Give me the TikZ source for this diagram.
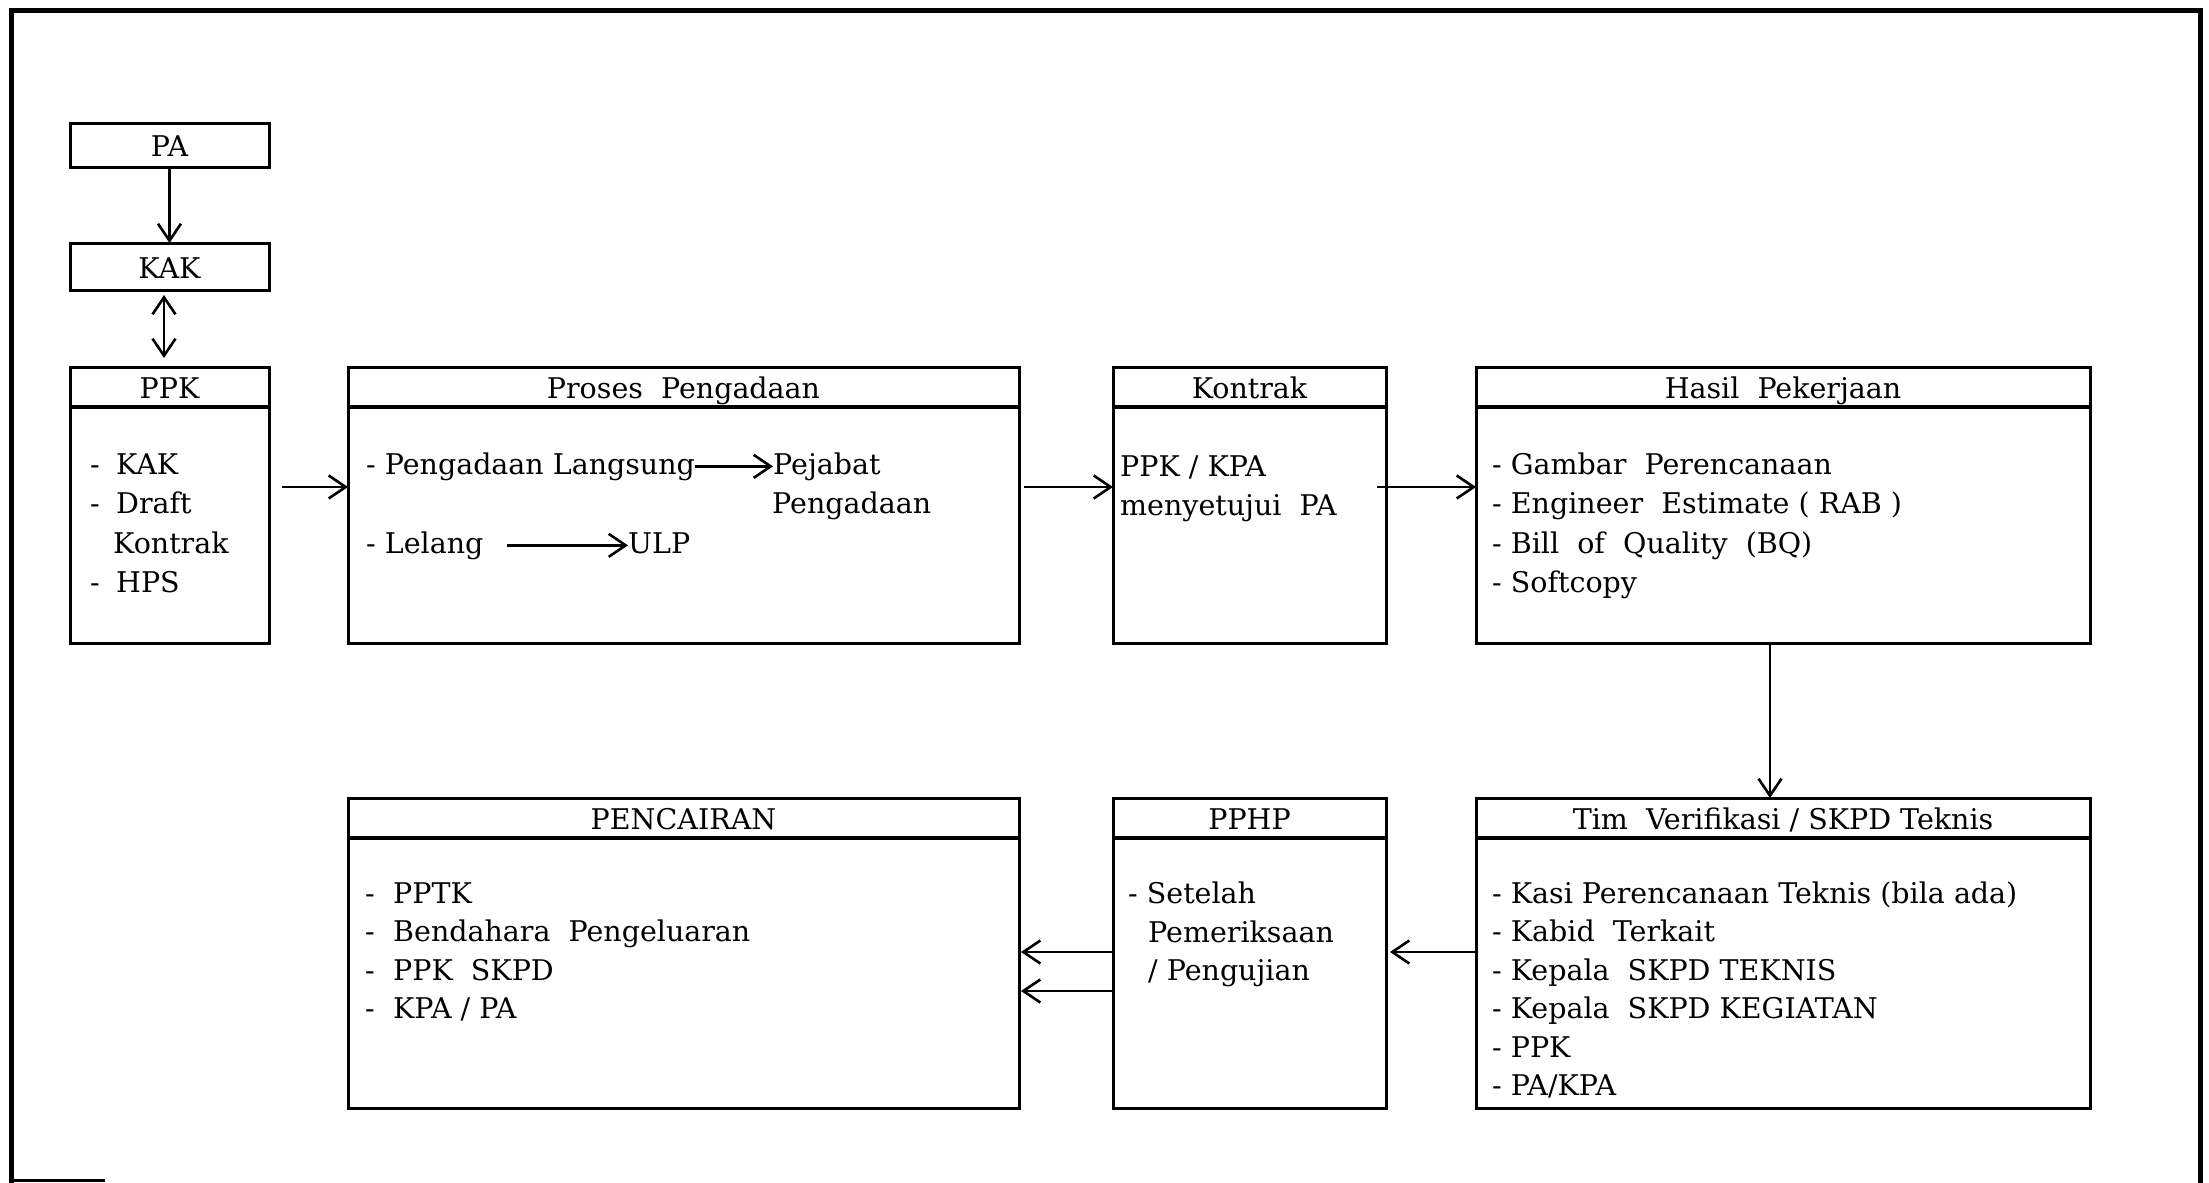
\documentclass[tikz,border=0pt]{standalone}
\usepackage{fontspec}
\setmainfont{DejaVu Serif}
\usetikzlibrary{arrows.meta,calc}
\begin{document}
\begin{tikzpicture}[x=1pt,y=-1pt,
  box/.style={draw, line width=3pt, anchor=north west, inner sep=0pt, outer sep=0pt},
  hdr/.style={line width=4.5pt},
  txt/.style={font=\fontsize{28.5}{34}\selectfont, inner sep=0pt, anchor=base west},
  ttl/.style={font=\fontsize{28.5}{34}\selectfont, inner sep=0pt, anchor=base},
  arr/.style={line width=2.6pt, -{Straight Barb[length=17pt,width=23pt]}},
  darr/.style={line width=2.6pt, {Straight Barb[length=17pt,width=23pt]}-{Straight Barb[length=17pt,width=23pt]}},
  frame/.style={line width=5pt}
  ]
\useasboundingbox (0,0) rectangle (2209,1183);
% outer frame
\draw[frame] (11,1183) -- (11,10) -- (2200,10) -- (2200,1183);
\draw[line width=3pt] (11,1180) -- (105,1180);
% boxes
\node[box, minimum width=199pt, minimum height=44pt] (pa) at (70,123) {};
\node[box, minimum width=199pt, minimum height=47pt] (kak) at (70,243) {};
\node[box, minimum width=199pt, minimum height=276pt] (ppk) at (70,367) {};
\node[box, minimum width=671pt, minimum height=276pt] (pros) at (348,367) {};
\node[box, minimum width=273pt, minimum height=276pt] (kon) at (1113,367) {};
\node[box, minimum width=614pt, minimum height=276pt] (has) at (1476,367) {};
\node[box, minimum width=671pt, minimum height=310pt] (pen) at (348,798) {};
\node[box, minimum width=273pt, minimum height=310pt] (pphp) at (1113,798) {};
\node[box, minimum width=614pt, minimum height=310pt] (tim) at (1476,798) {};
\foreach \n in {ppk,pros,kon,has,pen,pphp,tim}
  \draw[hdr] ([yshift=-40pt]\n.north west) -- ([yshift=-40pt]\n.north east);
% titles
\node[ttl] (pa-t) at ([yshift=-33pt]pa.north) {PA};
\node[ttl] (kak-t) at ([yshift=-35pt]kak.north) {KAK};
\node[ttl] (ppk-t) at ([yshift=-31pt]ppk.north) {PPK};
\node[ttl] (pros-t) at ([yshift=-31pt]pros.north) {Proses\ \ Pengadaan};
\node[ttl] (kon-t) at ([yshift=-31pt]kon.north) {Kontrak};
\node[ttl] (has-t) at ([yshift=-31pt]has.north) {Hasil\ \ Pekerjaan};
\node[ttl] (pen-t) at ([yshift=-31pt]pen.north) {PENCAIRAN};
\node[ttl] (pphp-t) at ([yshift=-31pt]pphp.north) {PPHP};
\node[ttl] (tim-t) at ([yshift=-31pt]tim.north) {Tim\ \ Verifikasi / SKPD Teknis};
% PPK body
\node[txt] (ppk-d1) at (90,474) {-};
\node[txt] (ppk-1) at (116,474) {KAK};
\node[txt] (ppk-d2) at (90,513) {-};
\node[txt] (ppk-2) at (116,513) {Draft};
\node[txt] (ppk-3) at (113,553) {Kontrak};
\node[txt] (ppk-d4) at (90,592) {-};
\node[txt] (ppk-4) at (116,592) {HPS};
% Proses body
\node[txt] (pl) at (366,474) {- Pengadaan Langsung};
\node[txt] (pj1) at (773,474) {Pejabat};
\node[txt] (pj2) at (772,513) {Pengadaan};
\node[txt] (lel) at (366,553) {- Lelang};
\node[txt] (ulp) at (628,553) {ULP};
% Kontrak body
\node[txt] (k1) at (1120,476) {PPK / KPA};
\node[txt] (k2) at (1120,515) {menyetujui\ \ PA};
% Hasil body
\node[txt] (h1) at (1492,474) {- Gambar\ \ Perencanaan};
\node[txt] (h2) at (1492,513) {- Engineer\ \ Estimate ( RAB )};
\node[txt] (h3) at (1492,553) {- Bill\ \ of\ \ Quality\ \ (BQ)};
\node[txt] (h4) at (1492,592) {- Softcopy};
% Tim body
\node[txt] (t1) at (1492,903) {- Kasi Perencanaan Teknis (bila ada)};
\node[txt] (t2) at (1492,941.5) {- Kabid\ \ Terkait};
\node[txt] (t3) at (1492,980) {- Kepala\ \ SKPD TEKNIS};
\node[txt] (t4) at (1492,1018.5) {- Kepala\ \ SKPD KEGIATAN};
\node[txt] (t5) at (1492,1057) {- PPK};
\node[txt] (t6) at (1492,1095.5) {- PA/KPA};
% PPHP body
\node[txt] (p1) at (1128,903) {- Setelah};
\node[txt] (p2) at (1148,942) {Pemeriksaan};
\node[txt] (p3) at (1148,980) {/ Pengujian};
% Pencairan body
\node[txt] (c-d1) at (365,903) {-};
\node[txt] (c1) at (393,903) {PPTK};
\node[txt] (c-d2) at (365,941.5) {-};
\node[txt] (c2) at (393,941.5) {Bendahara\ \ Pengeluaran};
\node[txt] (c-d3) at (365,980) {-};
\node[txt] (c3) at (393,980) {PPK\ \ SKPD};
\node[txt] (c-d4) at (365,1018.5) {-};
\node[txt] (c4) at (393,1018.5) {KPA / PA};
% connectors
\coordinate (r1) at (0,487);
\coordinate (r2) at (0,952);
\coordinate (r3) at (0,991);
\coordinate (vx) at (1770,0);
\coordinate (dx) at (164,0);
\draw[arr] (pa.south) -- (kak.north);
\draw[darr, shorten <=5pt, shorten >=9pt] (kak.south -| dx) -- (ppk.north -| dx);
\draw[arr, shorten <=13pt] (ppk.east |- r1) -- (pros.west |- r1);
\draw[arr, shorten <=5pt] (pros.east |- r1) -- (kon.west |- r1);
\draw[arr, shorten <=-9pt] (kon.east |- r1) -- (has.west |- r1);
\draw[arr] (has.south -| vx) -- (tim.north -| vx);
\draw[arr, shorten >=4pt] (tim.west |- r2) -- (pphp.east |- r2);
\draw[arr, shorten >=2pt] (pphp.west |- r2) -- (pen.east |- r2);
\draw[arr, shorten >=2pt] (pphp.west |- r3) -- (pen.east |- r3);
\draw[arr] (pl.east) -- (pj1.west);
\draw[arr, shorten <=23pt] (lel.east) -- (lel.east -| ulp.west);
\end{tikzpicture}
\end{document}
